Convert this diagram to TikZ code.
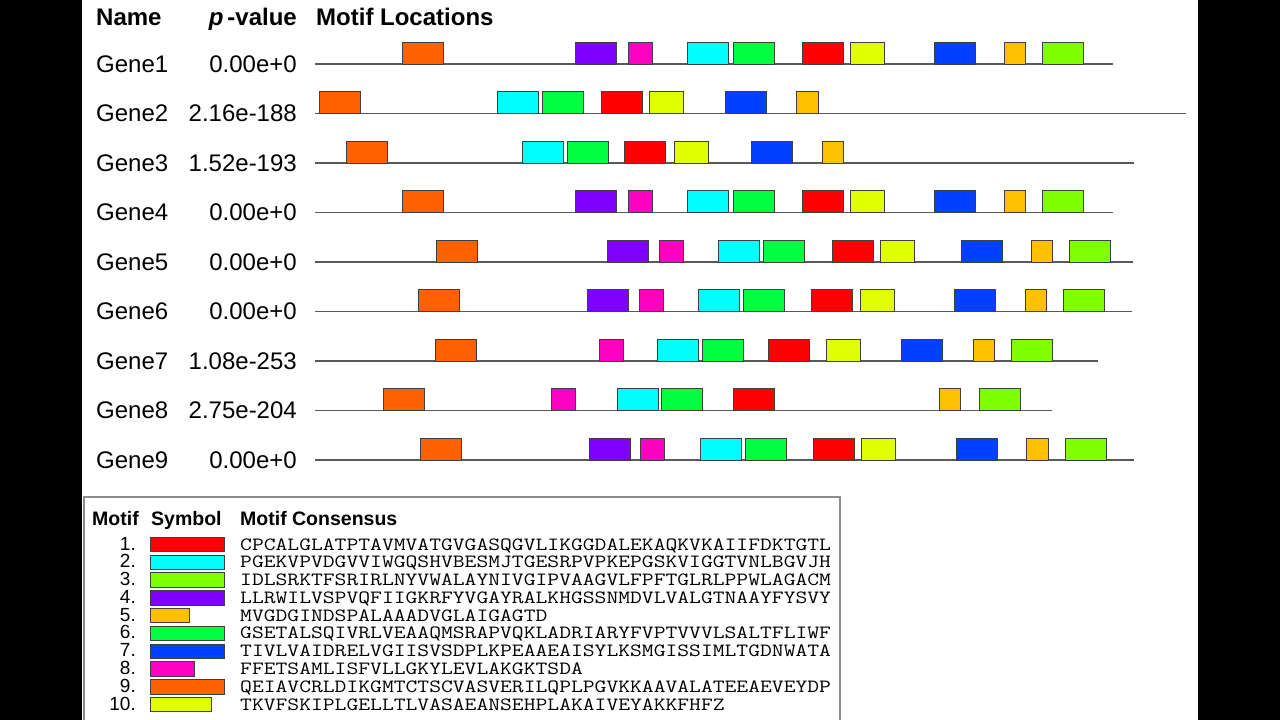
\documentclass[tikz,border=0pt]{standalone}
\usepackage{graphicx}
\usepackage{fontspec}
\setmainfont{Liberation Sans}
\definecolor{c1}{HTML}{FF0000}
\definecolor{c2}{HTML}{00FFFF}
\definecolor{c3}{HTML}{80FF00}
\definecolor{c4}{HTML}{8000FF}
\definecolor{c5}{HTML}{FFC000}
\definecolor{c6}{HTML}{00FF40}
\definecolor{c7}{HTML}{0040FF}
\definecolor{c8}{HTML}{FF00C0}
\definecolor{c9}{HTML}{FF6000}
\definecolor{c10}{HTML}{E0FF00}
\newcommand{\seqtext}[1]{\scalebox{1.227}[1]{\fontsize{18.7}{21}\ttfamily #1}}
\tikzset{
  lbl/.style={font=\fontsize{24}{28}\selectfont, inner sep=0pt},
  hdr/.style={font=\fontsize{24}{28}\selectfont\bfseries, inner sep=0pt},
  lhdr/.style={font=\fontsize{19.5}{23}\selectfont\bfseries, inner sep=0pt},
  lnum/.style={font=\fontsize{19}{22}\selectfont, inner sep=0pt},
  lseq/.style={inner sep=0pt},
  seqline/.style={draw=black!65, line width=1.6pt},
  mbox/.style={draw=black!75, line width=0.8pt},
  legendframe/.style={draw=black!45, line width=1.5pt},
}
\begin{document}
\begin{tikzpicture}[x=1pt, y=-1pt]
\useasboundingbox (0,0) rectangle (1280,720);
\clip (0,0) rectangle (1280,720);
\fill[white] (0,0) rectangle (1280,720);
\fill[black] (0,0) rectangle (82,720);
\fill[black] (1198,0) rectangle (1280,720);

% headers
\node[hdr, anchor=base west] (hname) at (96,25) {Name};
\node[hdr, anchor=base east] (hpv) at (297,25) {\textit{p}\hspace{4pt}-value};
\node[hdr, anchor=base west] (hloc) at (316,25) {Motif Locations};

% rows
\foreach \g/\p/\e/\lst in {
  1/{0.00e+0}/1113/{9/402,4/575,8/628,2/687,6/733,1/802,10/850,7/934,5/1004,3/1042},
  2/{2.16e-188}/1186/{9/319,2/497,6/542.7,1/601,10/649.3,7/725,5/796.7},
  3/{1.52e-193}/1134/{9/346,2/522,6/567,1/624.5,10/674,7/751,5/822},
  4/{0.00e+0}/1113/{9/402,4/575,8/628,2/687,6/733,1/802,10/850,7/934,5/1004,3/1042},
  5/{0.00e+0}/1133/{9/436,4/607,8/659.5,2/718.5,6/763.5,1/832,10/880,7/961,5/1031,3/1069},
  6/{0.00e+0}/1132/{9/418,4/587.5,8/639,2/698,6/743.5,1/811.5,10/860,7/954.5,5/1025,3/1063},
  7/{1.08e-253}/1098/{9/435,8/599.5,2/657,6/702.5,1/768,10/826.5,7/901.5,5/973,3/1011.5},
  8/{2.75e-204}/1052/{9/383,8/551,2/617,6/661.5,1/733,5/939,3/979},
  9/{0.00e+0}/1134/{9/420,4/589,8/640.5,2/700,6/745,1/813,10/861,7/956,5/1026.5,3/1065}}{
  \pgfmathsetmacro\ly{64+49.5*(\g-1)}
  \node[lbl, anchor=base west] (gene\g) at (96,\ly+8) {Gene\g};
  \node[lbl, anchor=base east] (pv\g) at (297,\ly+8) {\p};
  \coordinate (ls\g) at (315,\ly);
  \coordinate (le\g) at (\e,\ly);
  \draw[seqline] (ls\g) -- (le\g);
  \foreach \m/\s in \lst {
    \pgfmathsetmacro\w{{41,41,41,41,21.5,41,41,24,41,34}[\m-1]}
    \draw[mbox, fill=c\m] (\s,\ly-22) rectangle (\s+\w,\ly);
  }
}

% legend
\draw[legendframe] (84,497) rectangle (840,740);
\node[lhdr, anchor=base west] (lmotif) at (92,525) {Motif};
\node[lhdr, anchor=base west] (lsym) at (151,525) {Symbol};
\node[lhdr, anchor=base west] (lcons) at (240,525) {Motif Consensus};
\foreach \i/\w/\sq in {
  1/74/CPCALGLATPTAVMVATGVGASQGVLIKGGDALEKAQKVKAIIFDKTGTL,
  2/74/PGEKVPVDGVVIWGQSHVBESMJTGESRPVPKEPGSKVIGGTVNLBGVJH,
  3/74/IDLSRKTFSRIRLNYVWALAYNIVGIPVAAGVLFPFTGLRLPPWLAGACM,
  4/74/LLRWILVSPVQFIIGKRFYVGAYRALKHGSSNMDVLVALGTNAAYFYSVY,
  5/38.6/MVGDGINDSPALAAADVGLAIGAGTD,
  6/74/GSETALSQIVRLVEAAQMSRAPVQKLADRIARYFVPTVVVLSALTFLIWF,
  7/74/TIVLVAIDRELVGIISVSDPLKPEAAEAISYLKSMGISSIMLTGDNWATA,
  8/43.3/FFETSAMLISFVLLGKYLEVLAKGKTSDA,
  9/74/QEIAVCRLDIKGMTCTSCVASVERILQPLPGVKKAAVALATEEAEVEYDP,
  10/61/TKVFSKIPLGELLTLVASAEANSEHPLAKAIVEYAKKFHFZ}{
  \pgfmathsetmacro\ty{537.3+17.78*(\i-1)}
  \node[lnum, anchor=base east] (num\i) at (136,\ty+12.7) {\i.};
  \draw[mbox, fill=c\i] (150.7,\ty) rectangle (150.7+\w,\ty+14.4);
  \node[lseq, anchor=base west] (seq\i) at (240,\ty+12.7) {\seqtext{\sq}};
}
\end{tikzpicture}
\end{document}
